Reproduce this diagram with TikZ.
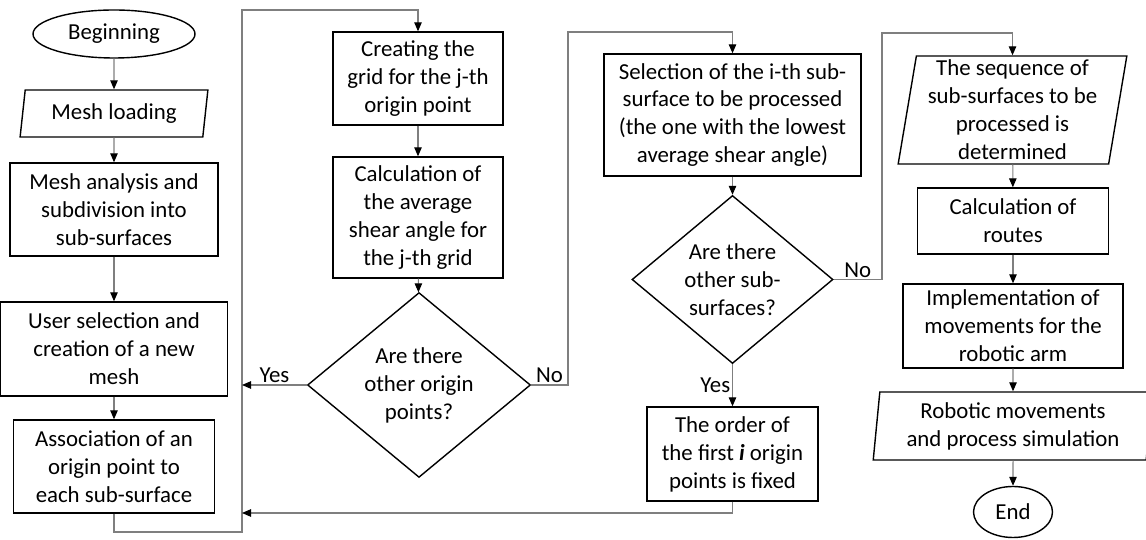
\documentclass[tikz,border=0pt]{standalone}
\usepackage{fontspec}
\setmainfont{Carlito}
\usepackage{tikz}
\usepackage{xcolor}
\usetikzlibrary{shapes,arrows.meta,positioning,calc}
\definecolor{FlowBlack}{HTML}{000000}
\definecolor{FlowWhite}{HTML}{ffffff}
\definecolor{FlowGray}{HTML}{7f7f7f}
\tikzset{
    % Base node style
    basenode/.style={
        draw=FlowBlack,
        fill=FlowWhite,
        line width=0.8pt,
        align=center,
        inner sep=1pt,
        font=\fontsize{13}{15.9}\selectfont
    },
    % Process box
    processnode/.style={
        basenode,
        rectangle
    },
    % Input/output parallelogram
    ionode/.style={
        basenode,
        trapezium,
        trapezium left angle=81,
        trapezium right angle=99,
        trapezium stretches=true
    },
    % Start/end
    terminalnode/.style={
        basenode,
        ellipse
    },
    % Decision
    decisionnode/.style={
        basenode,
        diamond,
        inner sep=0pt
    },
    % Arrow style (orthogonal lines only)
    myarrow/.style={
        -{Triangle[length=1.8mm,width=1.5mm,color=FlowBlack]},
        line width=0.6pt,
        draw=FlowGray
    },
    % Branch label
    branchlabel/.style={
        font=\fontsize{13}{15.9}\selectfont,
        inner sep=1pt
    }
}
\begin{document}
\begin{tikzpicture}
        \useasboundingbox (0,0) rectangle (22.92,10.8);

        % First column
        \node[terminalnode, minimum width=3.24cm, minimum height=0.96cm] (begin) at (2.28,10.12) {Beginning};
        \node[ionode, minimum width=3.76cm, minimum height=0.94cm] (load) at (2.28,8.53) {Mesh loading};
        \node[processnode, minimum width=4.16cm, minimum height=1.86cm] (analysis) at (2.28,6.61) {Mesh analysis and\\subdivision into\\sub-surfaces};
        \node[processnode, minimum width=4.54cm, minimum height=1.88cm] (usersel) at (2.28,3.82) {User selection and\\creation of a new\\mesh};
        \node[processnode, minimum width=4.02cm, minimum height=1.86cm] (assoc) at (2.28,1.47) {Association of an\\origin point to\\each sub-surface};

        % Second column
        \node[processnode, minimum width=3.4cm, minimum height=1.86cm] (grid) at (8.36,9.23) {Creating the\\grid for the j-th\\origin point};
        \node[processnode, minimum width=3.4cm, minimum height=2.42cm] (shear) at (8.36,6.45) {Calculation of\\the average\\shear angle for\\the j-th grid};
        \node[decisionnode, minimum width=4.46cm, minimum height=3cm] (askorig) at (8.38,3.1) {Are there\\other origin\\points?};

        % Third column
        \node[processnode, minimum width=5.14cm, minimum height=2.44cm] (select) at (14.65,8.5) {Selection of the i-th sub-\\surface to be processed\\(the one with the lowest\\average shear angle)};
        \node[decisionnode, minimum width=4.02cm, minimum height=2.94cm] (asksub) at (14.65,5.21) {Are there\\other sub-\\surfaces?};
        \node[processnode, minimum width=3.42cm, minimum height=1.88cm] (order) at (14.65,1.72) {The order of\\the first \textbf{\textit{i}} origin\\points is fixed};

        % Fourth column
        \node[ionode, minimum width=4.58cm, minimum height=2.16cm] (sequence) at (20.25,8.6) {The sequence of\\sub-surfaces to be\\processed is\\determined};
        \node[processnode, minimum width=3.82cm, minimum height=1.32cm] (routes) at (20.26,6.38) {Calculation of\\routes};
        \node[processnode, minimum width=4.4cm, minimum height=1.68cm] (moves) at (20.26,4.28) {Implementation of\\movements for the\\robotic arm};
        \node[ionode, trapezium left angle=84, trapezium right angle=96, minimum width=5.6cm, minimum height=1.36cm] (simul) at (20.26,2.28) {Robotic movements\\and process simulation};
        \node[terminalnode, minimum width=1.58cm, minimum height=1.02cm] (finish) at (20.26,0.56) {End};

        % Loop corners
        \coordinate (retbot) at (4.84,0.16);
        \coordinate (rettop) at (4.84,10.6);
        \coordinate (retin) at (4.84,0.54);
        \coordinate (noone) at (11.36,10.16);
        \coordinate (notwo) at (17.64,10.14);

        % Arrows
        \draw[myarrow] (begin) -- (load);
        \draw[myarrow] (load) -- (analysis);
        \draw[myarrow] (analysis) -- (usersel);
        \draw[myarrow] (usersel) -- (assoc);
        \draw[myarrow] (assoc.south) |- (retbot) -- (rettop) -| (grid.north);

        \draw[myarrow] (grid) -- (shear);
        \draw[myarrow] (shear) -- (askorig);
        \draw[myarrow] (askorig.west) -- node[branchlabel, above]{Yes} (askorig.west -| retbot);
        \draw[myarrow] (askorig.east) -- node[branchlabel, above]{No} (askorig.east -| noone) -- (noone) -| (select.north);

        \draw[myarrow] (select) -- (asksub);
        \draw[myarrow] (asksub) -- node[branchlabel, left]{Yes} (order);
        \draw[myarrow] (order.south) |- (retin);
        \draw[myarrow] (asksub.east) -- node[branchlabel, above]{No} (asksub.east -| notwo) -- (notwo) -| (sequence.north);

        \draw[myarrow] (sequence) -- (routes);
        \draw[myarrow] (routes) -- (moves);
        \draw[myarrow] (moves) -- (simul);
        \draw[myarrow] (simul) -- (finish);
    \end{tikzpicture}
\end{document}
